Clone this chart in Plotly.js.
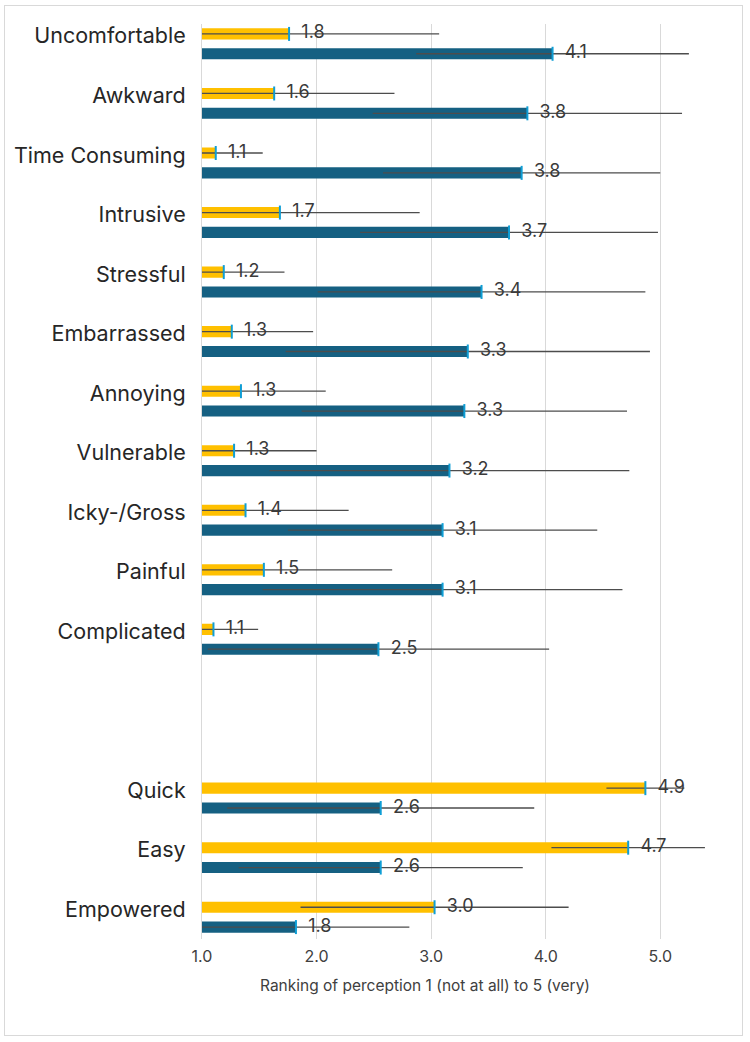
<!DOCTYPE html>
<html>
<head>
<meta charset="utf-8">
<script src="https://cdn.plot.ly/plotly-3.0.1.min.js"></script>
<style>
  html, body { margin: 0; padding: 0; background: #ffffff; }
  #wrap { position: relative; width: 750px; height: 1042px; }
  #chart { position: absolute; left: 0; top: 0; width: 750px; height: 1042px; }
  #frame { position: absolute; left: 4px; top: 5px; width: 737px; height: 1029px;
           border: 1px solid #d9d9d9; pointer-events: none; }
</style>
</head>
<body>
<div id="wrap">
  <div id="chart"></div>
  <div id="frame"></div>
</div>
<script>
// Perception items, top to bottom
const negativeItems = ['Uncomfortable', 'Awkward', 'Time Consuming', 'Intrusive', 'Stressful',
  'Embarrassed', 'Annoying', 'Vulnerable', 'Icky-/Gross', 'Painful', 'Complicated'];
const positiveItems = ['Quick', 'Easy', 'Empowered'];
const items = negativeItems.concat(positiveItems);

// Mean rating and standard deviation per item (gold series, upper bar of each pair)
const goldMean = [1.76, 1.63, 1.12, 1.68, 1.19, 1.26, 1.34, 1.28, 1.38, 1.54, 1.10, 4.87, 4.72, 3.03];
const goldSD   = [1.31, 1.05, 0.41, 1.22, 0.53, 0.71, 0.74, 0.72, 0.90, 1.12, 0.39, 0.34, 0.67, 1.17];

// Mean rating and standard deviation per item (blue series, lower bar of each pair)
const blueMean = [4.06, 3.84, 3.79, 3.68, 3.44, 3.32, 3.29, 3.16, 3.10, 3.10, 2.54, 2.56, 2.56, 1.82];
const blueSD   = [1.19, 1.35, 1.21, 1.30, 1.43, 1.59, 1.42, 1.57, 1.35, 1.57, 1.49, 1.34, 1.24, 0.99];

// Row layout: each item takes three rows (gold, blue, spacer); the positive
// block is pushed down by a few extra empty rows.
const ROWS_PER_ITEM = 3;
const BLOCK_GAP = 5;
const goldRow = items.map((_, i) =>
  i * ROWS_PER_ITEM + (i >= negativeItems.length ? BLOCK_GAP : 0));
const blueRow = goldRow.map(r => r + 1);

const GOLD = '#FFC000';
const BLUE = '#156082';
const CAP = '#0F9ED5';
const ERR = '#4d4d4d';
const FONT = 'Inter, "Open Sans", sans-serif';

function barTrace(name, means, sds, rows, color) {
  return {
    type: 'bar', orientation: 'h', name: name,
    x: means, y: rows, width: 0.56,
    marker: { color: color, line: { width: 0 } },
    error_x: { type: 'data', array: sds, symmetric: true, color: ERR, thickness: 1.3, width: 0 },
    hoverinfo: 'skip', showlegend: false
  };
}
// thin light-blue edge at the end of each bar
function capTrace(means, rows) {
  return {
    type: 'scatter', mode: 'markers', x: means, y: rows,
    marker: { symbol: 'line-ns', size: 10, line: { color: CAP, width: 2 } },
    hoverinfo: 'skip', showlegend: false
  };
}
// value label right of each bar end
function labelTrace(means, rows) {
  return {
    type: 'scatter', mode: 'markers+text', x: means, y: rows,
    marker: { size: 18, opacity: 0 },
    texttemplate: '%{x:.1f}', textposition: 'middle right',
    textfont: { family: FONT, size: 18, color: '#3a3a3a' },
    cliponaxis: false, hoverinfo: 'skip', showlegend: false
  };
}

const data = [
  barTrace('Gold', goldMean, goldSD, goldRow, GOLD),
  barTrace('Blue', blueMean, blueSD, blueRow, BLUE),
  capTrace(goldMean, goldRow),
  capTrace(blueMean, blueRow),
  labelTrace(goldMean, goldRow),
  labelTrace(blueMean, blueRow)
];

const layout = {
  width: 750, height: 1042,
  margin: { l: 202, r: 21, t: 24, b: 102.5 },
  paper_bgcolor: '#ffffff', plot_bgcolor: '#ffffff',
  font: { family: FONT, color: '#262626' },
  barmode: 'overlay',
  xaxis: {
    range: [1, 5.6], tickvals: [1, 2, 3, 4, 5], tickformat: '.1f',
    showgrid: true, gridcolor: '#d9d9d9', gridwidth: 1,
    zeroline: false, showline: false, ticks: '', ticklabelstandoff: 6,
    tickfont: { family: FONT, size: 16, color: '#404040' }
  },
  yaxis: {
    range: [45.6, -0.5], tickvals: goldRow, ticktext: items,
    showgrid: false, zeroline: false, showline: true, linecolor: '#d9d9d9', linewidth: 1,
    ticks: '', ticklabelstandoff: 11, ticklabelshift: -2,
    tickfont: { family: FONT, size: 21.5, color: '#262626' }
  },
  annotations: [{
    xref: 'paper', yref: 'paper', x: 0.4225, y: 0, yshift: -46,
    xanchor: 'center', yanchor: 'middle', showarrow: false,
    text: 'Ranking of perception 1 (not at all) to 5 (very)',
    font: { family: FONT, size: 15.5, color: '#404040' }
  }]
};

Plotly.newPlot('chart', data, layout, { displayModeBar: false, staticPlot: true });
</script>
</body>
</html>
